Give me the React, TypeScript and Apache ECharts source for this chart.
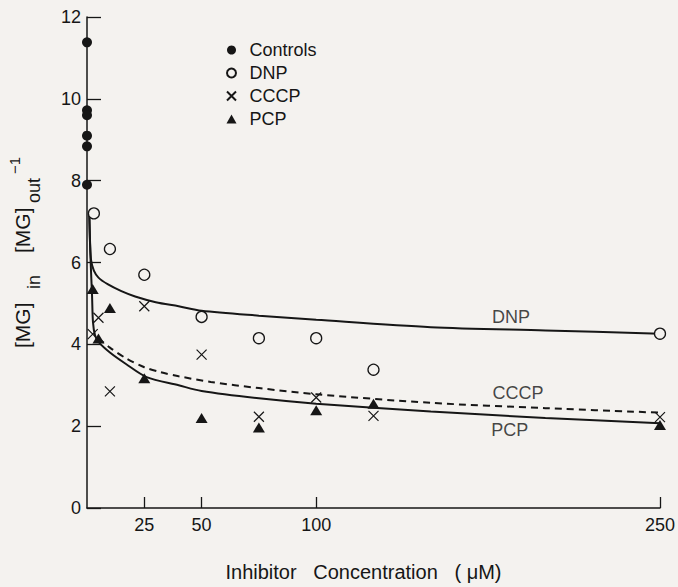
import React, { useEffect, useRef } from "react";
import * as echarts from "echarts";

// ---- data ----
const controlsX = [0, 0, 0, 0, 0, 0];
const controlsY = [11.38, 9.72, 9.6, 9.1, 8.84, 7.9];

const dnpX = [3, 10, 25, 50, 75, 100, 125, 250];
const dnpY = [7.2, 6.33, 5.7, 4.67, 4.15, 4.15, 3.38, 4.26];

const cccpX = [2.5, 5, 10, 25, 50, 75, 100, 125, 250];
const cccpY = [4.25, 4.65, 2.85, 4.93, 3.75, 2.23, 2.7, 2.25, 2.22];

const pcpX = [2.5, 5, 10, 25, 50, 75, 100, 125, 250];
const pcpY = [5.35, 4.14, 4.89, 3.17, 2.2, 1.97, 2.39, 2.55, 2.03];

// fitted curves
const dnpCurveX = [1.0, 1.3, 1.8, 3, 5, 9, 15, 21, 30, 40, 50, 75, 100, 150, 200, 250];
const dnpCurveY = [7.2, 6.5, 6.05, 5.8, 5.63, 5.47, 5.3, 5.17, 5.03, 4.93, 4.82, 4.7, 4.6, 4.42, 4.34, 4.26];

const pcpCurveX = [1.0, 1.6, 2.2, 2.6, 3.5, 5, 10, 17, 26, 40, 50, 75, 100, 150, 200, 250];
const pcpCurveY = [7.2, 6.0, 5.2, 4.55, 4.22, 4.06, 3.8, 3.52, 3.2, 3.0, 2.86, 2.68, 2.55, 2.36, 2.2, 2.07];

const cccpCurveX = [5, 10, 17, 25, 32, 40, 54, 75, 100, 150, 200, 250];
const cccpCurveY = [4.15, 3.92, 3.66, 3.44, 3.32, 3.22, 3.08, 2.93, 2.78, 2.57, 2.44, 2.33];

// curve name annotations (data coordinates)
const curveLabelNames = ["DNP", "CCCP", "PCP"];
const curveLabelX = [185, 188, 184.5];
const curveLabelY = [4.68, 2.82, 1.9];

const xTickValues = [25, 50, 100, 250];
const legendNames = ["Controls", "DNP", "CCCP", "PCP"];

const zip = (xs: number[], ys: number[]) => xs.map((x, i) => [x, ys[i]]);

const BG = "#f4f2ef";
const INK = "#161616";
const FONT = "'Liberation Sans', Arial, Helvetica, sans-serif";
const XPATH = "path://M0,0L10,10M10,0L0,10";

const titlePart = (text: string, x: number, y: number, size: number) => ({
  type: "text",
  x,
  y,
  style: {
    text,
    fontSize: size,
    fontFamily: FONT,
    fill: INK,
    align: "left",
    verticalAlign: "middle",
  },
});

export default function App() {
  const ref = useRef<HTMLDivElement>(null);

  useEffect(() => {
    if (!ref.current) return;
    const chart = echarts.init(ref.current, null, { renderer: "svg" });
    const option: any = {
      animation: false,
      backgroundColor: BG,
      textStyle: { fontFamily: FONT, color: INK },
      grid: { left: 87, right: 17, top: 17, bottom: 73 },
      legend: {
        data: legendNames,
        orient: "vertical",
        left: 226,
        top: 41,
        padding: 0,
        itemWidth: 10,
        itemHeight: 9,
        itemGap: 5,
        textStyle: {
          fontSize: 18,
          color: INK,
          fontFamily: FONT,
          lineHeight: 18,
          padding: [0, 0, 0, 8],
        },
        selectedMode: false,
      },
      xAxis: {
        type: "value",
        min: 0,
        max: 250,
        interval: 25,
        name: "Inhibitor   Concentration   ( μM)",
        nameLocation: "middle",
        nameGap: 54,
        nameTextStyle: { fontSize: 20, color: INK, fontFamily: FONT, padding: [0, 20, 0, 0] },
        axisLine: { show: true, onZero: false, lineStyle: { color: INK, width: 1.5 } },
        axisTick: {
          show: true,
          inside: true,
          length: 11,
          customValues: xTickValues,
          lineStyle: { color: INK, width: 1.3 },
        },
        axisLabel: { customValues: xTickValues, fontSize: 18, color: INK, margin: 8, fontFamily: FONT },
        splitLine: { show: false },
      },
      yAxis: {
        type: "value",
        min: 0,
        max: 12,
        interval: 2,
        axisLine: { show: true, onZero: false, lineStyle: { color: INK, width: 1.5 } },
        axisTick: { show: true, inside: true, length: 14, lineStyle: { color: INK, width: 1.3 } },
        axisLabel: { fontSize: 18, color: INK, margin: 6, fontFamily: FONT },
        splitLine: { show: false },
      },
      graphic: [
        {
          type: "group",
          x: 22,
          y: 348,
          rotation: Math.PI / 2,
          children: [
            titlePart("[MG]", 0, 0, 21),
            titlePart("in", 59, 12, 18),
            titlePart("[MG]", 95, 0, 21),
            titlePart("out", 145, 12, 18),
            titlePart("−1", 174, -8, 15),
          ],
        },
      ],
      series: [
        {
          name: "DNP fit",
          type: "line",
          data: zip(dnpCurveX, dnpCurveY),
          smooth: 0.3,
          showSymbol: false,
          lineStyle: { color: INK, width: 2 },
          z: 2,
          silent: true,
        },
        {
          name: "PCP fit",
          type: "line",
          data: zip(pcpCurveX, pcpCurveY),
          smooth: 0.3,
          showSymbol: false,
          lineStyle: { color: INK, width: 2 },
          z: 2,
          silent: true,
        },
        {
          name: "CCCP fit",
          type: "line",
          data: zip(cccpCurveX, cccpCurveY),
          smooth: 0.3,
          showSymbol: false,
          lineStyle: { color: INK, width: 2, type: [7, 5] },
          z: 2,
          silent: true,
        },
        {
          name: "Controls",
          type: "scatter",
          data: zip(controlsX, controlsY),
          symbol: "circle",
          symbolSize: 10,
          itemStyle: { color: INK, opacity: 1 },
          z: 4,
        },
        {
          name: "DNP",
          type: "scatter",
          data: zip(dnpX, dnpY),
          symbol: "circle",
          symbolSize: 11,
          itemStyle: { color: BG, borderColor: INK, borderWidth: 1.3, opacity: 1 },
          z: 4,
        },
        {
          name: "CCCP",
          type: "scatter",
          data: zip(cccpX, cccpY),
          symbol: XPATH,
          symbolSize: 10,
          itemStyle: { color: "rgba(0,0,0,0)", borderColor: INK, borderWidth: 1.2, opacity: 1 },
          z: 4,
        },
        {
          name: "PCP",
          type: "scatter",
          data: zip(pcpX, pcpY),
          symbol: "triangle",
          symbolSize: [12, 10],
          itemStyle: { color: INK, opacity: 1 },
          z: 4,
        },
        {
          name: "curve labels",
          type: "scatter",
          data: curveLabelNames.map((n, i) => ({ name: n, value: [curveLabelX[i], curveLabelY[i]] })),
          symbolSize: 0,
          silent: true,
          label: {
            show: true,
            position: "inside",
            formatter: (p: any) => p.name,
            fontSize: 18,
            color: INK,
            fontFamily: FONT,
          },
          z: 5,
        },
      ],
    };
    chart.setOption(option);
    return () => chart.dispose();
  }, []);

  return (
    <div
      ref={ref}
      style={{ position: "fixed", left: 0, top: 0, width: 678, height: 587 }}
    />
  );
}
